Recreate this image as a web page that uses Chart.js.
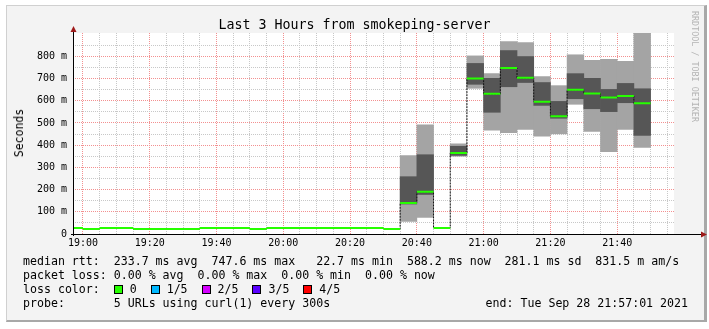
<!DOCTYPE html>
<html><head><meta charset="utf-8">
<script src="https://cdn.jsdelivr.net/npm/chart.js@4"></script>
<style>
html,body{margin:0;padding:0;background:#fff;}
#wrap{position:absolute;left:0;top:0;width:709px;height:329px;overflow:hidden;}
#frame{position:absolute;left:6px;top:5px;width:697px;height:314px;background:#f3f3f3;border-top:1px solid #d0d0d0;border-left:1px solid #d0d0d0;border-right:3px solid #a8a8a8;border-bottom:2px solid #a8a8a8;}
canvas{position:absolute;left:0;top:0;}
.t{position:absolute;font-family:"DejaVu Sans Mono",monospace;white-space:pre;color:#000;}
.box{display:inline-block;width:7px;height:7px;border:1px solid #000;vertical-align:-1px;}
</style></head>
<body>
<div id="wrap">
<div id="frame"></div>
<canvas id="c" width="709" height="329"></canvas>
<div class="t" id="title" style="left:0;width:709px;top:17px;text-align:center;font-size:13.3px;line-height:16px;">Last 3 Hours from smokeping-server</div>
<div class="t" style="left:19px;top:133px;font-size:11.5px;line-height:14px;transform:translate(-50%,-50%) rotate(-90deg);">Seconds</div>
<div class="t" style="left:689px;top:11px;font-size:8.4px;line-height:12px;color:#b4b4b4;writing-mode:vertical-rl;">RRDTOOL / TOBI OETIKER</div>
<div class="t" id="legend" style="left:23px;top:254px;font-size:11.6px;line-height:14px;"></div>
<div class="t" id="endtxt" style="right:21px;top:296px;font-size:11.6px;line-height:14px;"></div>
</div>
<script>
// ---- data ----
const binTimes = ['18:55','19:00','19:05','19:10','19:15','19:20','19:25','19:30','19:35','19:40',
                  '19:45','19:50','19:55','20:00','20:05','20:10','20:15','20:20','20:25','20:30',
                  '20:35','20:40','20:45','20:50','20:55','21:00','21:05','21:10','21:15','21:20',
                  '21:25','21:30','21:35','21:40','21:45'];
const medianRtt = [26.5,22.7,26.5,26.5,22.7,22.7,22.7,22.7,26.5,26.5,
                   26.5,22.7,26.5,26.5,26.5,26.5,26.5,26.5,26.5,22.7,
                   140,190,26.5,365,700,631,747.6,703,596,530,
                   649,633,615,621,588.2];
const smokeMin = [null,null,null,null,null,null,null,null,null,null,
                  null,null,null,null,null,null,null,null,null,null,
                  57,75,null,350,656,467,456,471,440,451,
                  584,462,371,471,390];
const smokeMax = [null,null,null,null,null,null,null,null,null,null,
                  null,null,null,null,null,null,null,null,null,null,
                  353,492,null,406,802,722,866,862,709,668,
                  807,782,787,777,903];
const coreMin  = [null,null,null,null,null,null,null,null,null,null,
                  null,null,null,null,null,null,null,null,null,null,
                  135,178,null,354,674,548,663,682,579,521,
                  609,564,551,591,444];
const coreMax  = [null,null,null,null,null,null,null,null,null,null,
                  null,null,null,null,null,null,null,null,null,null,
                  258,357,null,395,768,701,826,799,682,597,
                  722,701,651,678,654];
const xTickLabels = ['19:00','19:20','19:40','20:00','20:20','20:40','21:00','21:20','21:40'];
const yTickValues = [0,100,200,300,400,500,600,700,800];
const yTickLabels = ['0','100 m','200 m','300 m','400 m','500 m','600 m','700 m','800 m'];
const lossLabels = ['0','1/5','2/5','3/5','4/5'];
const lossColors = ['#26ff00','#00b8ff','#d400ff','#5a00ff','#ff0000'];
const statsLine = 'median rtt:  233.7 ms avg  747.6 ms max   22.7 ms min  588.2 ms now  281.1 ms sd  831.5 m am/s';
const lossLine  = 'packet loss: 0.00 % avg  0.00 % max  0.00 % min  0.00 % now';
const probeLine = 'probe:       5 URLs using curl(1) every 300s';
const endLine   = 'end: Tue Sep 28 21:57:01 2021';

// ---- helpers ----
const START_SEC = 18*3600 + 57*60 + 1;
const SPAN_MIN = 180;
const BIN_MIN = 5;
function toMin(hhmm){ const p = hhmm.split(':').map(Number); return (p[0]*3600 + p[1]*60 - START_SEC)/60; }

const lightData = binTimes.map((t,i)=>({x: toMin(t)+BIN_MIN/2, y: smokeMin[i]==null ? null : [smokeMin[i], smokeMax[i]]}));
const darkData  = binTimes.map((t,i)=>({x: toMin(t)+BIN_MIN/2, y: coreMin[i]==null ? null : [coreMin[i], coreMax[i]]}));
const stepData = [], greenData = [];
binTimes.forEach((t,i)=>{
  const s = toMin(t);
  stepData.push({x:s, y:medianRtt[i]}, {x:s+BIN_MIN, y:medianRtt[i]});
  greenData.push({x:s, y:medianRtt[i]}, {x:s+BIN_MIN, y:medianRtt[i]}, {x:s+BIN_MIN, y:null});
});

// x grid every 5 minutes starting at the first labelled tick
const xMajor = xTickLabels.map(toMin);
const xGrid = [];
for (let v = xMajor[0]; v <= SPAN_MIN; v += BIN_MIN) xGrid.push(v);
function xLabelFor(v){ const k = xMajor.findIndex(m=>Math.abs(m-v)<1e-6); return k>=0 ? xTickLabels[k] : ''; }
const yGrid = [];
for (let v = 0; v <= 850; v += 50) yGrid.push(v);
function yLabelFor(v){ const k = yTickValues.indexOf(v); return k>=0 ? yTickLabels[k] : ''; }

// ---- text ----
let lossHtml = 'loss color:  ';
lossLabels.forEach((l,i)=>{ lossHtml += '<span class="box" style="background:'+lossColors[i]+'"></span> ' + l + (i<lossLabels.length-1 ? '  ' : ''); });
document.getElementById('legend').innerHTML = statsLine + '\n' + lossLine + '\n' + lossHtml + '\n' + probeLine;
document.getElementById('endtxt').textContent = endLine;

// ---- plugins ----
const areaBg = {
  id:'areaBg',
  beforeDraw(chart){ const a = chart.chartArea, c = chart.ctx; c.save(); c.fillStyle = '#fff'; c.fillRect(a.left, a.top, a.right-a.left, a.bottom-a.top); c.restore(); }
};
const axesArrows = {
  id:'axesArrows',
  afterDraw(chart){
    const a = chart.chartArea, c = chart.ctx;
    c.save();
    c.strokeStyle = '#000'; c.lineWidth = 1;
    c.beginPath();
    c.moveTo(a.left-2, a.bottom+0.5); c.lineTo(a.right+30, a.bottom+0.5);
    c.moveTo(a.left+0.5, a.bottom+2); c.lineTo(a.left+0.5, a.top-3);
    c.stroke();
    c.fillStyle = '#9e1a1a';
    c.beginPath();
    c.moveTo(a.right+33, a.bottom+0.5); c.lineTo(a.right+27, a.bottom-2.5); c.lineTo(a.right+27, a.bottom+3.5); c.closePath(); c.fill();
    c.beginPath();
    c.moveTo(a.left+0.5, a.top-7); c.lineTo(a.left-2.5, a.top-1); c.lineTo(a.left+3.5, a.top-1); c.closePath(); c.fill();
    c.restore();
  }
};

Chart.defaults.font.family = '"DejaVu Sans Mono", monospace';
Chart.defaults.color = '#000';

new Chart(document.getElementById('c'), {
  type: 'bar',
  data: {
    datasets: [
      {type:'line', data: greenData, borderColor:'#26ff00', borderWidth:2, pointRadius:0, spanGaps:false, tension:0, order:0, clip:0},
      {type:'line', data: stepData, borderColor:'#111', borderWidth:1, borderDash:[2,1], pointRadius:0, tension:0, order:1, clip:0},
      {type:'bar', data: darkData, backgroundColor:'#565656', borderWidth:0, barPercentage:1, categoryPercentage:1, grouped:false, order:2, clip:0},
      {type:'bar', data: lightData, backgroundColor:'#a4a4a4', borderWidth:0, barPercentage:1, categoryPercentage:1, grouped:false, order:3, clip:0}
    ]
  },
  options: {
    responsive:false, animation:false, devicePixelRatio:1,
    layout:{padding:{left:0, right:35, top:33, bottom:75}},
    plugins:{legend:{display:false}, tooltip:{enabled:false}, title:{display:false}},
    scales:{
      x:{
        type:'linear', min:0, max:SPAN_MIN, offset:false,
        afterBuildTicks(s){ s.ticks = xGrid.map(v=>({value:v})); },
        afterFit(s){ s.height = 20; },
        ticks:{autoSkip:false, maxRotation:0, padding:3, font:{size:10}, color:'#000', callback:(v)=>xLabelFor(v)},
        grid:{offset:false, drawTicks:false, lineWidth:1, color:(ctx)=> (ctx.tick && xLabelFor(ctx.tick.value)) ? '#f39090' : '#c8c8c8'},
        border:{display:false, dash:[1,1]}
      },
      y:{
        type:'linear', min:0, max:905,
        afterBuildTicks(s){ s.ticks = yGrid.map(v=>({value:v})); },
        afterFit(s){ s.width = 73; },
        ticks:{autoSkip:false, padding:6, font:{size:10}, color:'#000', callback:(v)=>yLabelFor(v)},
        grid:{drawTicks:false, lineWidth:1, color:(ctx)=> (ctx.tick && ctx.tick.value % 100 === 0) ? '#f39090' : '#c8c8c8'},
        border:{display:false, dash:[1,1]}
      }
    }
  },
  plugins:[areaBg, axesArrows]
});
</script>
</body></html>
